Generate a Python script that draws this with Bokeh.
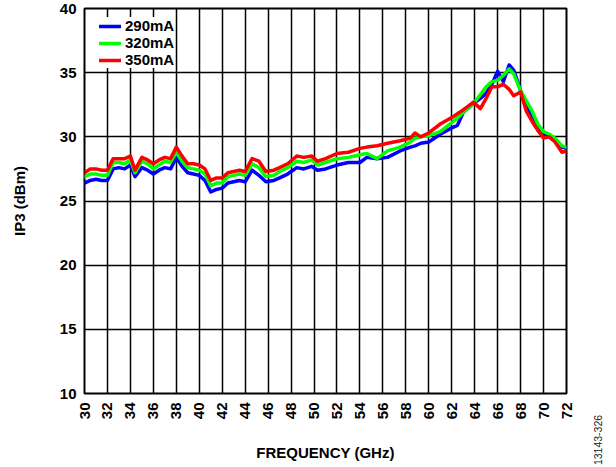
import math
from bokeh.plotting import figure
from bokeh.models import FixedTicker, Legend, LegendItem, Range1d, Div
from bokeh.layouts import row
from bokeh.embed import file_html
from bokeh.resources import INLINE

freq = [30, 30.5, 31, 31.5, 32, 32.5, 33, 33.5, 34, 34.4, 35, 35.5, 36, 36.5, 37, 37.5,
        38, 38.5, 39, 39.5, 40, 40.5, 41, 41.5, 42, 42.5, 43, 43.5, 44, 44.6, 45.2, 45.8,
        46.5, 47, 47.7, 48.5, 49.1, 49.8, 50.3, 51, 52, 53, 54, 54.6, 55.5, 56.4, 57.5,
        58.4, 58.8, 59.3, 60, 61, 62, 62.5, 63, 63.9, 64.5, 65, 65.5, 66, 66.5, 67, 67.4,
        68, 68.5, 69, 69.5, 70, 70.5, 71, 71.6, 72]

ip3_290 = [26.4, 26.6, 26.7, 26.6, 26.6, 27.5, 27.6, 27.5, 27.8, 26.9, 27.6, 27.4, 27.1, 27.4, 27.6, 27.5,
           28.4, 27.7, 27.2, 27.1, 27.0, 26.6, 25.7, 25.9, 26.0, 26.4, 26.5, 26.6, 26.5, 27.4, 27.0, 26.5,
           26.6, 26.8, 27.1, 27.6, 27.5, 27.7, 27.4, 27.5, 27.8, 28.0, 28.0, 28.4, 28.3, 28.4, 28.9,
           29.2, 29.3, 29.5, 29.6, 30.2, 30.7, 30.9, 31.9, 32.6, 33.0, 33.4, 34.1, 35.1, 34.3, 35.6, 35.2,
           33.6, 32.5, 31.4, 30.8, 30.2, 30.0, 29.7, 29.2, 29.1]

ip3_320 = [26.9, 27.1, 27.1, 27.0, 27.0, 28.0, 28.0, 27.9, 28.2, 27.2, 28.1, 27.9, 27.5, 27.8, 28.1, 28.0,
           28.8, 28.1, 27.6, 27.5, 27.4, 27.1, 26.2, 26.4, 26.4, 26.9, 27.0, 27.1, 27.0, 27.9, 27.6, 26.9,
           27.0, 27.3, 27.6, 28.1, 28.0, 28.2, 27.8, 28.0, 28.3, 28.4, 28.6, 28.7, 28.3, 28.9, 29.2,
           29.6, 29.9, 30.0, 30.1, 30.4, 31.1, 31.5, 31.9, 32.6, 33.3, 33.9, 34.3, 34.4, 34.8, 35.3, 34.9,
           33.6, 32.8, 32.0, 31.0, 30.4, 30.2, 29.9, 29.3, 29.2]

ip3_350 = [27.2, 27.5, 27.5, 27.4, 27.4, 28.3, 28.3, 28.3, 28.5, 27.4, 28.4, 28.2, 27.9, 28.2, 28.4, 28.3,
           29.2, 28.5, 27.9, 27.9, 27.8, 27.5, 26.6, 26.8, 26.8, 27.2, 27.3, 27.4, 27.3, 28.3, 28.1, 27.3,
           27.4, 27.6, 27.9, 28.5, 28.4, 28.5, 28.1, 28.3, 28.7, 28.8, 29.1, 29.2, 29.3, 29.5, 29.7,
           29.9, 30.3, 30.0, 30.3, 31.0, 31.5, 31.8, 32.1, 32.7, 32.2, 33.0, 33.9, 33.9, 34.1, 33.7, 33.2,
           33.5, 32.0, 31.2, 30.5, 29.9, 30.0, 29.6, 28.8, 28.9]

series_names = ["290mA", "320mA", "350mA"]
series_colors = ["#0000FF", "#00FF00", "#FF0000"]

x_ticks = list(range(30, 73, 2))
y_ticks = [10, 15, 20, 25, 30, 35, 40]

FONT = "Liberation Sans"

p = figure(width=590, height=467, output_backend="svg", toolbar_location=None,
           x_range=Range1d(30, 72), y_range=Range1d(10, 40),
           min_border_left=84, min_border_right=24, min_border_top=8, min_border_bottom=74)

p.outline_line_color = "black"
p.outline_line_width = 2
p.background_fill_color = "white"
p.border_fill_color = "white"

p.xaxis.ticker = FixedTicker(ticks=x_ticks)
p.yaxis.ticker = FixedTicker(ticks=y_ticks)
p.xgrid.ticker = FixedTicker(ticks=x_ticks)
p.ygrid.ticker = FixedTicker(ticks=y_ticks)
for g in (p.xgrid, p.ygrid):
    g.grid_line_color = "black"
    g.grid_line_width = 1.5
    g.grid_line_alpha = 1.0

for ax in (p.xaxis, p.yaxis):
    ax.axis_line_color = None
    ax.major_tick_line_color = None
    ax.minor_tick_line_color = None
    ax.major_tick_out = 0
    ax.major_tick_in = 0
    ax.major_label_text_font = FONT
    ax.major_label_text_font_style = "bold"
    ax.major_label_text_font_size = "15px"
    ax.major_label_text_color = "black"
    ax.axis_label_text_font = FONT
    ax.axis_label_text_font_style = "bold"
    ax.axis_label_text_font_size = "15px"
    ax.axis_label_text_color = "black"

p.xaxis.axis_label = "FREQUENCY (GHz)"
p.yaxis.axis_label = "IP3 (dBm)"
p.xaxis.major_label_orientation = math.pi / 2
p.xaxis.major_label_standoff = 9
p.yaxis.major_label_standoff = 8
p.xaxis.axis_label_standoff = 22
p.yaxis.axis_label_standoff = 29

renderers = []
for ys, c in zip([ip3_290, ip3_320, ip3_350], series_colors):
    r = p.line(freq, ys, line_color=c, line_width=3.5, line_join="round", line_cap="round")
    renderers.append(r)

legend = Legend(items=[LegendItem(label=n, renderers=[r]) for n, r in zip(series_names, renderers)],
                location=(15, 325), orientation="vertical",
                background_fill_color="white", background_fill_alpha=1.0,
                border_line_color=None, padding=4, margin=0, spacing=0,
                glyph_width=22, glyph_height=16, label_height=16, label_standoff=4,
                label_text_font=FONT, label_text_font_style="bold",
                label_text_font_size="15px", label_text_color="black")
p.add_layout(legend)

note_html = ('<div style="position:absolute; left:11px; top:435px; '
             'transform: translate(-50%, -50%) rotate(-90deg); '
             "font-family:'Liberation Sans'; font-size:10.5px; color:#222222; "
             'white-space:nowrap; line-height:1;">13143-326</div>')
note = Div(text=note_html, width=26, height=467,
           styles={"position": "relative", "background-color": "white", "margin-left": "-3px"})

layout = row(p, note, spacing=0)

open("out.html", "w").write(file_html(layout, INLINE))
